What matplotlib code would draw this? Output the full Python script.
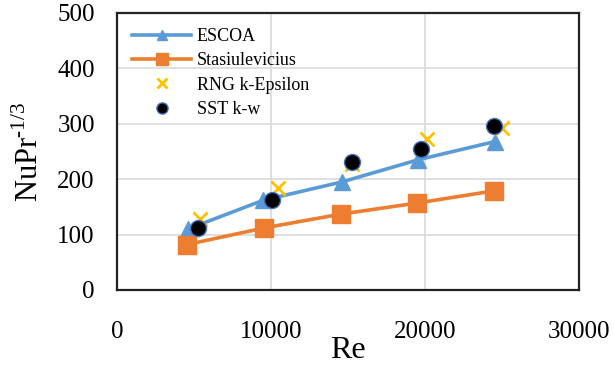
import matplotlib
matplotlib.use("Agg")
import matplotlib.pyplot as plt

plt.rcParams['font.family'] = ['Liberation Serif', 'DejaVu Serif']
plt.rcParams['mathtext.fontset'] = 'custom'
plt.rcParams['mathtext.rm'] = 'Liberation Serif'

# data
re_escoa = [4600, 9500, 14600, 19550, 24550]
nu_escoa = [110, 162, 195, 235, 268]
re_stas = [4550, 9550, 14550, 19500, 24500]
nu_stas = [82, 112, 137, 157, 179]
re_rng = [5400, 10450, 15250, 20150, 25000]
nu_rng = [128, 184, 228, 272, 293]
re_sst = [5250, 10050, 15250, 19750, 24450]
nu_sst = [112, 162, 231, 254, 296]

fig = plt.figure(figsize=(6.14, 3.65), dpi=100)
ax = fig.add_axes([0.1906, 0.2055, 0.7524, 0.759])

ax.plot(re_escoa, nu_escoa, color='#5B9BD5', lw=2.6, marker='^', ms=11, label='ESCOA', zorder=3)
ax.plot(re_stas, nu_stas, color='#ED7D31', lw=2.6, marker='s', ms=13, label='Stasiulevicius', zorder=3)
ax.plot(re_rng, nu_rng, ls='none', marker='x', color='#FFC000', ms=10, mew=2, label='RNG k-Epsilon', zorder=4)
ax.plot(re_sst, nu_sst, ls='none', marker='o', mfc='black', mec='#4472C4', mew=1, ms=11.5, label='SST k-w', zorder=5)

ax.set_xlim(0, 30000)
ax.set_ylim(0, 500)
ax.set_xticks([0, 10000, 20000, 30000])
ax.set_yticks([0, 100, 200, 300, 400, 500])
ax.grid(True, color='#d9d9d9', lw=1.2)
ax.set_axisbelow(True)
ax.tick_params(length=0, labelsize=18)
ax.tick_params(axis='x', pad=22)
ax.tick_params(axis='y', pad=16)
for s in ax.spines.values():
    s.set_linewidth(1.6)
    s.set_color('#222222')

ax.set_xlabel('Re', fontsize=23)
ax.xaxis.set_label_coords(0.5, -0.165)
ax.set_ylabel(r'NuPr$^{\text{-1/3}}$', fontsize=22)
ax.yaxis.set_label_coords(-0.155, 0.5)

leg = ax.legend(loc='upper left', bbox_to_anchor=(0.032, 0.945), frameon=False,
                fontsize=13, handlelength=3.3, handletextpad=0.3,
                labelspacing=0.4, borderaxespad=0, borderpad=0, markerscale=0.7)

fig.savefig('out.png', dpi=100)
